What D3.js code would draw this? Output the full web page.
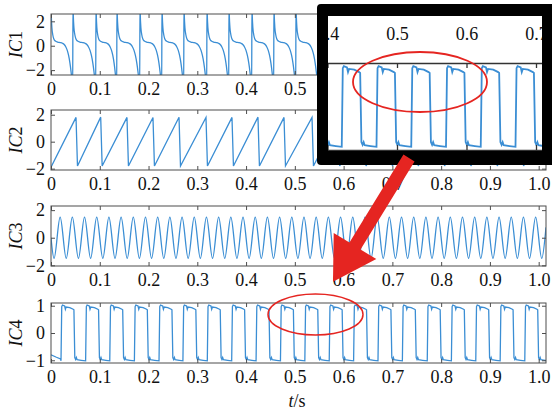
<!DOCTYPE html>
<html>
<head>
<meta charset="utf-8">
<script src="https://cdn.jsdelivr.net/npm/d3@7"></script>
<style>
  body { margin: 0; background: #fff; }
  svg { display: block; }
  svg text { font-family: 'Liberation Serif', 'Times New Roman', Times, 'DejaVu Serif', serif !important; }
</style>
</head>
<body>
<script>
// ---- tick values / labels ----
var xTicks = [0, 0.1, 0.2, 0.3, 0.4, 0.5, 0.6, 0.7, 0.8, 0.9, 1.0];
var xTickLabels = ['0', '0.1', '0.2', '0.3', '0.4', '0.5', '0.6', '0.7', '0.8', '0.9', '1.0'];
var yTicks2 = [-2, 0, 2];
var yTickLabels2 = ['\u22122', '0', '2'];
var yTicks1 = [-1, 0, 1];
var yTickLabels1 = ['\u22121', '0', '1'];
var insetTicks = [0.4, 0.5, 0.6, 0.7];
var insetTickLabels = ['0.4', '0.5', '0.6', '0.7'];

// ---- IC1: times of the upward jumps (s), shape of one cycle [phase, value] ----
var ic1Jumps = [0, 0.0451, 0.0923, 0.1353, 0.1825, 0.2276, 0.2727, 0.3199, 0.365, 0.4121,
                0.4572, 0.5024, 0.548, 0.594, 0.640, 0.685, 0.731, 0.777, 0.822, 0.868,
                0.914, 0.959, 1.005];
var ic1LastPeriod = 0.0457;
var ic1Cycle = [[0, 3.6], [0.015, 2.4], [0.04, 1.5], [0.08, 0.9], [0.13, 0.55], [0.2, 0.38],
                [0.3, 0.3], [0.42, 0.26], [0.52, 0.2], [0.6, 0.1], [0.67, -0.08], [0.74, -0.38],
                [0.8, -0.8], [0.86, -1.4], [0.91, -2.1], [0.95, -2.8], [0.985, -3.6]];

// ---- IC2: sawtooth, peak times and levels ----
var ic2Start = -1.9;
var ic2Peaks = [0.0513, 0.1019, 0.1558, 0.2091, 0.2625, 0.3178, 0.3711, 0.4244, 0.4778, 0.5352,
                0.589, 0.643, 0.697, 0.750, 0.804, 0.858, 0.912, 0.966, 1.02];
var ic2Top = [1.8, 1.82, 1.8, 1.79, 1.81, 1.8, 1.8, 1.82, 1.8, 1.8,
              1.8, 1.8, 1.8, 1.8, 1.8, 1.8, 1.8, 1.8, 1.8];
var ic2Bottom = -1.8;

// ---- IC3: 40 Hz oscillation, turning points every half period ----
var ic3First = 0.00625, ic3Half = 0.0125;
var ic3Turns = [
  -1.5, 1.5, -1.5, 1.5, -1.5, 1.5, -1.5, 1.5, -1.5, 1.5,
  -1.5, 1.5, -1.5, 1.5, -1.5, 1.5, -1.5, 1.5, -1.5, 1.5,
  -1.5, 1.5, -1.5, 1.5, -1.5, 1.5, -1.5, 1.5, -1.5, 1.5,
  -1.5, 1.5, -1.5, 1.5, -1.5, 1.5, -1.5, 1.5, -1.5, 1.5,
  -1.5, 1.5, -1.5, 1.5, -1.5, 1.5, -1.5, 1.5, -1.5, 1.5,
  -1.5, 1.5, -1.5, 1.5, -1.5, 1.5, -1.5, 1.5, -1.5, 1.5,
  -1.5, 1.5, -1.5, 1.5, -1.5, 1.5, -1.5, 1.5, -1.5, 1.5,
  -1.5, 1.5, -1.5, 1.5, -1.5, 1.5, -1.5, 1.5, -1.5, 1.5,
  -1.5];
var ic3End = [1.015, 0.75];

// ---- IC4: square wave, rising / falling edges and segment shapes ----
var ic4Start = [[0, -0.8], [0.01, -0.88], [0.0195, -0.95]];
var ic4Rise = [0.0205, 0.071, 0.1205, 0.171, 0.2215, 0.2705, 0.3205, 0.3705, 0.4205, 0.4705,
               0.5205, 0.5705, 0.6205, 0.6705, 0.7205, 0.7715, 0.821, 0.871, 0.921, 0.9715];
var ic4Fall = [0.047, 0.0975, 0.147, 0.1975, 0.248, 0.297, 0.347, 0.397, 0.447, 0.497,
               0.547, 0.597, 0.647, 0.697, 0.747, 0.798, 0.8475, 0.8975, 0.9475, 0.998];
var ic4High = [[0, -1.02], [0.0015, 0.97], [0.003, 1.02], [0.0075, 0.99], [0.009, 0.87],
               [0.0105, 0.95], [0.018, 0.93], [0.025, 0.87]];
var ic4HighEnd = 0.85;
var ic4Low = [[0.0018, -0.9], [0.0035, -0.97], [0.005, -0.9], [0.0065, -0.98], [0.015, -1.0]];
var ic4End = [1.015, -1.01];

// ---- build the series ----
function ic1Points() {
    var pts = [];
    ic1Jumps.forEach(function(t0, i) {
        var T = i < ic1Jumps.length - 1 ? ic1Jumps[i + 1] - t0 : ic1LastPeriod;
        ic1Cycle.forEach(function(c) { pts.push([t0 + c[0] * T, c[1]]); });
    });
    return pts;
}
function ic2Points() {
    var pts = [[0, ic2Start]];
    ic2Peaks.forEach(function(t, i) {
        pts.push([t, ic2Top[i]]);
        pts.push([t + 0.003, ic2Bottom]);
    });
    return pts;
}
function ic3Points() {
    var pts = [[0, 0]];
    ic3Turns.forEach(function(v, i) { pts.push([ic3First + i * ic3Half, v]); });
    pts.push(ic3End);
    return pts;
}
function ic4Points() {
    var pts = ic4Start.slice();
    ic4Rise.forEach(function(r, i) {
        var f = ic4Fall[i];
        ic4High.forEach(function(s) { pts.push([r + s[0], s[1]]); });
        pts.push([f, ic4HighEnd]);
        ic4Low.forEach(function(s) { pts.push([f + s[0], s[1]]); });
    });
    pts.push(ic4End);
    return pts;
}

var serif = "'Liberation Serif', 'Times New Roman', Times, serif";
var lineColor = '#3b8ed4';
var frameColor = '#4d4d4d';
var red = '#e52521';

var svg = d3.select('body').append('svg')
    .attr('width', 552).attr('height', 415);

var x = d3.scaleLinear().domain([0, 1.015]).range([51, 546]);

var panels = [
    {num: '1', top: 14, bottom: 75, dom: [-2.4, 2.6], ticks: yTicks2, labels: yTickLabels2, pts: ic1Points(), curve: d3.curveMonotoneX},
    {num: '2', top: 110, bottom: 170, dom: [-2.1, 2.35], ticks: yTicks2, labels: yTickLabels2, pts: ic2Points(), curve: d3.curveLinear},
    {num: '3', top: 206, bottom: 266, dom: [-2.05, 2.3], ticks: yTicks2, labels: yTickLabels2, pts: ic3Points(), curve: d3.curveMonotoneX},
    {num: '4', top: 303, bottom: 363, dom: [-1.1, 1.1], ticks: yTicks1, labels: yTickLabels1, pts: ic4Points(), curve: d3.curveLinear}
];

var defs = svg.append('defs');

function styleAxis(g) {
    g.select('.domain').remove();
    g.attr('font-family', serif).attr('font-size', 18);
    g.selectAll('line').attr('stroke', frameColor);
    g.selectAll('text').attr('fill', '#111');
}

panels.forEach(function(p) {
    var y = d3.scaleLinear().domain(p.dom).range([p.bottom, p.top]);
    var g = svg.append('g');

    defs.append('clipPath').attr('id', 'clip' + p.num)
        .append('rect').attr('x', x.range()[0]).attr('y', p.top)
        .attr('width', x.range()[1] - x.range()[0]).attr('height', p.bottom - p.top);

    g.append('path')
        .datum(p.pts)
        .attr('clip-path', 'url(#clip' + p.num + ')')
        .attr('fill', 'none')
        .attr('stroke', lineColor)
        .attr('stroke-width', 1.3)
        .attr('d', d3.line().x(function(d) { return x(d[0]); }).y(function(d) { return y(d[1]); }).curve(p.curve));

    g.append('g').attr('transform', 'translate(0,' + p.bottom + ')')
        .call(d3.axisBottom(x).tickValues(xTicks).tickFormat(function(d, i) { return xTickLabels[i]; })
            .tickSizeInner(-4).tickSizeOuter(0).tickPadding(7))
        .call(styleAxis);
    g.append('g').attr('transform', 'translate(0,' + p.top + ')')
        .call(d3.axisTop(x).tickValues(xTicks).tickFormat('').tickSizeInner(-4).tickSizeOuter(0))
        .call(styleAxis);
    g.append('g').attr('transform', 'translate(' + x.range()[0] + ',0)')
        .call(d3.axisLeft(y).tickValues(p.ticks).tickFormat(function(d, i) { return p.labels[i]; })
            .tickSizeInner(-4).tickSizeOuter(0).tickPadding(6))
        .call(styleAxis);
    g.append('g').attr('transform', 'translate(' + x.range()[1] + ',0)')
        .call(d3.axisRight(y).tickValues(p.ticks).tickFormat('').tickSizeInner(-4).tickSizeOuter(0))
        .call(styleAxis);

    g.append('rect')
        .attr('x', x.range()[0]).attr('y', p.top)
        .attr('width', x.range()[1] - x.range()[0]).attr('height', p.bottom - p.top)
        .attr('fill', 'none').attr('stroke', frameColor).attr('stroke-width', 1);

    var lab = g.append('text')
        .attr('transform', 'translate(21.5,' + (p.top + p.bottom) / 2 + ') rotate(-90)')
        .attr('text-anchor', 'middle').attr('font-size', 18).attr('fill', '#111');
    lab.append('tspan').attr('font-style', 'italic').text('IC');
    lab.append('tspan').text(p.num);
});

// x-axis title
var xt = svg.append('text').attr('x', 297).attr('y', 407)
    .attr('text-anchor', 'middle').attr('font-size', 18).attr('fill', '#111');
xt.append('tspan').attr('font-style', 'italic').text('t');
xt.append('tspan').text('/s');

// ellipse in IC4
svg.append('ellipse').attr('cx', 315.5).attr('cy', 314.5).attr('rx', 47.5).attr('ry', 20.5)
    .attr('fill', 'none').attr('stroke', red).attr('stroke-width', 1.5);

// ---- inset: zoom of IC4 around 0.4 - 0.7 s ----
var xi = d3.scaleLinear().domain([0.4, 0.72]).range([327.5, 549.9]);
var yi = d3.scaleLinear().domain([-1.1, 1.1]).range([150, 63]);

defs.append('clipPath').attr('id', 'insetClip')
    .append('rect').attr('x', 328).attr('y', 16).attr('width', 214).attr('height', 135);
defs.append('clipPath').attr('id', 'insetPlot')
    .append('rect').attr('x', 328).attr('y', 63).attr('width', 214).attr('height', 87);

var inset = svg.append('g').attr('clip-path', 'url(#insetClip)');
inset.append('rect').attr('x', 320).attr('y', 8).attr('width', 240).attr('height', 160).attr('fill', '#fff');

inset.append('g').attr('transform', 'translate(0,16)')
    .call(d3.axisBottom(xi).tickValues(insetTicks).tickFormat(function(d, i) { return insetTickLabels[i]; })
        .tickSize(0).tickPadding(11))
    .call(styleAxis);

inset.append('path')
    .datum(ic4Points())
    .attr('clip-path', 'url(#insetPlot)')
    .attr('fill', 'none').attr('stroke', lineColor).attr('stroke-width', 1.8)
    .attr('d', d3.line().x(function(d) { return xi(d[0]); }).y(function(d) { return yi(d[1]); }));

inset.append('g').attr('transform', 'translate(0,63)')
    .call(d3.axisTop(xi).tickValues(insetTicks).tickFormat('').tickSizeInner(-5).tickSizeOuter(0))
    .call(function(g) {
        g.selectAll('line').attr('stroke', '#333').attr('stroke-width', 1.3);
        g.select('.domain').attr('stroke', '#333').attr('stroke-width', 1.3);
    });
inset.append('g').attr('transform', 'translate(0,150)')
    .call(d3.axisBottom(xi).tickValues(insetTicks).tickFormat('').tickSizeInner(-5).tickSizeOuter(0))
    .call(function(g) {
        g.selectAll('line').attr('stroke', '#333').attr('stroke-width', 1.3);
        g.select('.domain').attr('stroke', '#333').attr('stroke-width', 1.3);
    });

inset.append('ellipse').attr('cx', 420).attr('cy', 82).attr('rx', 67).attr('ry', 30)
    .attr('fill', 'none').attr('stroke', red).attr('stroke-width', 1.8);

// thick black border of the inset
var outer = d3.path();
outer.moveTo(321, 4); outer.lineTo(556, 4); outer.lineTo(556, 165); outer.lineTo(321, 165);
outer.quadraticCurveTo(317, 165, 317, 161); outer.lineTo(317, 8);
outer.quadraticCurveTo(317, 4, 321, 4); outer.closePath();
outer.rect(328, 16, 214, 135);
svg.append('path').attr('d', outer.toString()).attr('fill', '#000').attr('fill-rule', 'evenodd');

// red arrow from the inset to IC4
var start = [409, 158], base = [355, 246];
var dir = [-0.524, 0.852], nrm = [0.852, 0.524];
var sw = 6.5, hw = 25, hl = 42;
function pt(p, a, v) { return [p[0] + a * v[0], p[1] + a * v[1]]; }
var arrow = [
    pt(start, -sw, nrm), pt(base, -sw, nrm), pt(base, -hw, nrm),
    pt(base, hl, dir), pt(base, hw, nrm), pt(base, sw, nrm), pt(start, sw, nrm)
];
svg.append('polygon').attr('points', arrow.map(function(d) { return d.join(','); }).join(' '))
    .attr('fill', red);
</script>
</body>
</html>
